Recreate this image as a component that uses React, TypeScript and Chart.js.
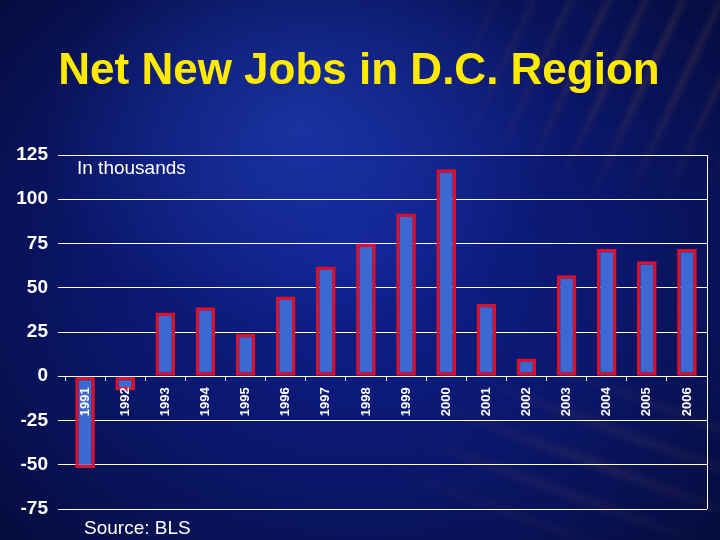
import React, { useEffect, useRef } from "react";
import { Chart, registerables } from "chart.js";

Chart.register(...registerables);

const years = ["1991","1992","1993","1994","1995","1996","1997","1998","1999","2000","2001","2002","2003","2004","2005","2006"];
const netNewJobs = [-52, -8, 36, 39, 24, 45, 62, 75, 92, 117, 41, 10, 57, 72, 65, 72];
const yTickValues = [125, 100, 75, 50, 25, 0, -25, -50, -75];
const titleText = "Net New Jobs in D.C. Region";
const unitText = "In thousands";
const sourceText = "Source: BLS";

const FONT = '"Liberation Sans", Arial, sans-serif';

const textPlugin = {
  id: "slideText",
  afterDraw(chart: any) {
    const { ctx, chartArea } = chart;
    ctx.save();
    ctx.textBaseline = "alphabetic";
    ctx.fillStyle = "#ffea00";
    ctx.font = `bold 44px ${FONT}`;
    ctx.textAlign = "center";
    ctx.fillText(titleText, 359, 84);
    ctx.fillStyle = "#ffffff";
    ctx.textAlign = "left";
    ctx.font = `19px ${FONT}`;
    ctx.fillText(unitText, chartArea.left + 12, chartArea.top + 19);
    ctx.fillText(sourceText, chartArea.left + 19, chartArea.bottom + 25);
    ctx.strokeStyle = "#ffffff";
    ctx.lineWidth = 1;
    ctx.beginPath();
    ctx.moveTo(chartArea.right + 0.5, chartArea.top);
    ctx.lineTo(chartArea.right + 0.5, chartArea.bottom);
    ctx.stroke();
    ctx.restore();
  },
};

export default function App() {
  const ref = useRef<HTMLCanvasElement | null>(null);
  useEffect(() => {
    document.body.style.margin = "0";
    const canvas = ref.current;
    if (!canvas) return;
    const chart = new Chart(canvas, {
      type: "bar",
      data: {
        labels: years,
        datasets: [
          {
            data: netNewJobs,
            backgroundColor: "#3b68d2",
            borderColor: "#d6122e",
            borderWidth: 3.5,
            borderSkipped: false,
            categoryPercentage: 1,
            barPercentage: 0.49,
          },
        ],
      },
      options: {
        animation: false,
        responsive: false,
        layout: { padding: { left: 0, right: 13, top: 155, bottom: 31 } },
        plugins: {
          legend: { display: false },
          title: { display: false },
          tooltip: { enabled: false },
        },
        scales: {
          x: {
            position: { y: 0 } as any,
            afterFit: (s: any) => { s.height = 0; },
            border: { display: false },
            grid: {
              display: true,
              drawOnChartArea: false,
              drawTicks: true,
              tickLength: 5,
              color: "#ffffff",
              offset: true,
            },
            ticks: {
              z: 1,
              color: "#ffffff",
              font: { family: FONT, size: 13, weight: "bold" },
              minRotation: 90,
              maxRotation: 90,
              padding: 6,
              autoSkip: false,
            },
          },
          y: {
            min: -75,
            max: 125,
            afterFit: (s: any) => { s.width = 65; },
            afterBuildTicks: (s: any) => { s.ticks = yTickValues.map((v) => ({ value: v })); },
            border: { display: false },
            grid: {
              color: "#ffffff",
              lineWidth: 1,
              drawTicks: true,
              tickLength: 7,
            },
            ticks: {
              color: "#ffffff",
              font: { family: FONT, size: 19, weight: "bold" },
              padding: 10,
            },
          },
        },
      },
      plugins: [textPlugin],
    });
    return () => chart.destroy();
  }, []);

  return (
    <div
      style={{
        position: "fixed",
        left: 0,
        top: 0,
        width: 720,
        height: 540,
        overflow: "hidden",
        background:
          "radial-gradient(ellipse 260px 200px at 300px 130px, rgba(40,80,210,0.45), rgba(40,80,210,0) 100%)," +
          "radial-gradient(ellipse 500px 420px at 360px 260px, #0f2090 0%, #0a1668 55%, #050b3a 100%)",
      }}
    >
      <div
        style={{
          position: "absolute",
          left: 0,
          top: 0,
          width: 720,
          height: 540,
          background:
            "repeating-linear-gradient(115deg, rgba(160,100,60,0) 0px, rgba(160,100,60,0.22) 7px, rgba(160,100,60,0) 15px, rgba(160,100,60,0) 34px)",
          WebkitMaskImage: "radial-gradient(ellipse 220px 150px at 640px 60px, black, transparent)",
          maskImage: "radial-gradient(ellipse 220px 150px at 640px 60px, black, transparent)",
        } as any}
      />
      <div
        style={{
          position: "absolute",
          left: 0,
          top: 0,
          width: 720,
          height: 540,
          background:
            "repeating-linear-gradient(20deg, rgba(150,100,90,0) 0px, rgba(150,100,90,0.16) 9px, rgba(150,100,90,0) 20px, rgba(150,100,90,0) 38px)",
          WebkitMaskImage: "radial-gradient(ellipse 220px 110px at 600px 460px, black, transparent)",
          maskImage: "radial-gradient(ellipse 220px 110px at 600px 460px, black, transparent)",
        } as any}
      />
      <canvas ref={ref} width={720} height={540} style={{ position: "absolute", left: 0, top: 0, display: "block", width: 720, height: 540 }} />
    </div>
  );
}
